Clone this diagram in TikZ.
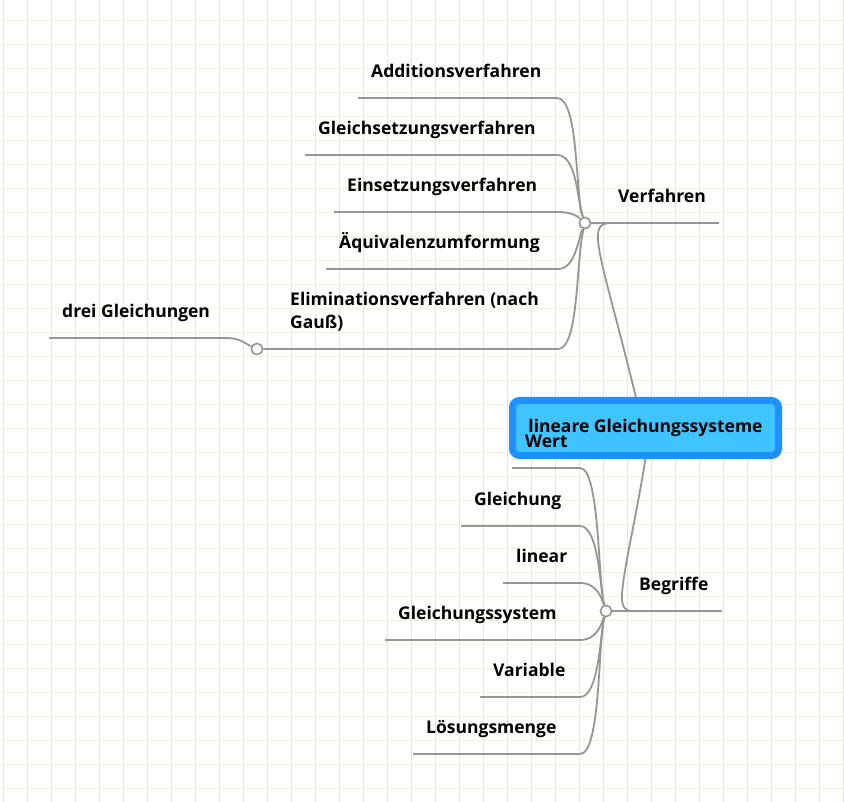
\documentclass[tikz,border=0pt]{standalone}
\usepackage{fontspec}
\setmainfont{Open Sans}
\definecolor{gridv}{RGB}{228,231,216}
\definecolor{gridh}{RGB}{234,244,222}
\definecolor{branchgray}{RGB}{150,150,150}
\definecolor{rootborder}{RGB}{30,144,255}
\definecolor{rootfill}{RGB}{64,196,255}
\tikzset{
  topic/.style={anchor=south west, inner xsep=13pt, inner ysep=0pt,
    text height=13pt, text depth=20pt, font=\fontsize{17.5}{23}\selectfont\bfseries},
  branch/.style={draw=branchgray, line width=1.8pt},
  hub/.style={circle, draw=branchgray, line width=1.5pt, fill=white,
    inner sep=0pt, minimum size=11pt},
  root/.style={draw=rootborder, fill=rootfill, line width=7pt, rounded corners=7pt,
    minimum width=266pt, minimum height=55pt, inner sep=0pt,
    font=\fontsize{17.5}{23}\selectfont\bfseries}
}
\begin{document}
\begin{tikzpicture}[x=1pt,y=-1pt]
  \useasboundingbox (0,0) rectangle (844,802);
  \fill[white] (0,0) rectangle (844,802);
  % grid
  \foreach \k in {0,...,34}
    \draw[gridh, line width=1pt] (0,20.3+24*\k) -- (844,20.3+24*\k);
  \foreach \k in {0,...,35}
    \draw[gridv, line width=1pt] (3.3+24*\k,0) -- (3.3+24*\k,802);

  % hubs and labels
  \node[hub] (hubV) at (585,223) {};
  \node[hub] (hubB) at (606,611) {};
  \node[hub] (hubE) at (257,349) {};
  \coordinate (vjoin) at (612,223);
  \coordinate (bjoin) at (632,611);

  \node[topic] (verf) at (605,223) {Verfahren};
  \node[topic] (begr) at (626,611) {Begriffe};

  \node[topic] (add) at (358,98) {Additionsverfahren};
  \node[topic] (gleichs) at (305,155) {Gleichsetzungsverfahren};
  \node[topic] (einsetz) at (334,212) {Einsetzungsverfahren};
  \node[topic] (aequi) at (326,269) {Äquivalenzumformung};
  \node[topic, anchor=west, text height=, text depth=, align=left] (elim) at (277,312)
    {Eliminationsverfahren (nach\\Gauß)};
  \node[topic] (drei) at (49,338) {drei Gleichungen};

  \node[topic] (gleichung) at (461,526) {Gleichung};
  \node[topic] (lin) at (503,583) {linear};
  \node[topic] (gsys) at (385,640) {Gleichungssystem};
  \node[topic] (var) at (480,697) {Variable};
  \node[topic] (loes) at (413,754) {Lösungsmenge};

  % connectors
  \draw[branch] (add.south west) -- (557,98) .. controls (579,98) and (575,195) .. (hubV);
  \draw[branch] (gleichs.south west) -- (557,155) .. controls (577,155) and (577,200) .. (hubV);
  \draw[branch] (einsetz.south west) -- (557,212) .. controls (570,212) and (576,215) .. (hubV);
  \draw[branch] (aequi.south west) -- (558,269) .. controls (575,269) and (578,240) .. (hubV);
  \draw[branch] (hubE) -- (558,349) .. controls (579,349) and (576,260) .. (hubV);
  \draw[branch] (drei.south west) -- (226,338) .. controls (240,338) and (244,343) .. (hubE);
  \draw[branch] (hubV) -- (verf.south east);
  \draw[branch] (hubB) -- (begr.south east);

  \draw[branch] (gleichung.south west) -- (580,526) .. controls (599,526) and (600,590) .. (hubB);
  \draw[branch] (lin.south west) -- (580,583) .. controls (598,583) and (602,600) .. (hubB);
  \draw[branch] (gsys.south west) -- (580,640) .. controls (598,640) and (602,622) .. (hubB);
  \draw[branch] (var.south west) -- (580,697) .. controls (599,697) and (600,635) .. (hubB);
  \draw[branch] (loes.south west) -- (580,754) .. controls (601,754) and (598,640) .. (hubB);
  \draw[branch] (512,468) -- (580,468) .. controls (600,468) and (598,585) .. (hubB);

  \draw[branch] (637,402) .. controls (615,310) and (597,255) .. (598,236)
    .. controls (598,226) and (602,223) .. (vjoin);
  \draw[branch] (646,455) .. controls (636,520) and (622,575) .. (622,597)
    .. controls (622,607) and (625,611) .. (bjoin);

  % hubs on top of the lines
  \node[hub] at (hubV) {};
  \node[hub] at (hubB) {};
  \node[hub] at (hubE) {};

  % root
  \node[root] (root) at (645.5,428) {lineare Gleichungssysteme};
  \node[topic] (wert) at (512,468) {Wert};
\end{tikzpicture}
\end{document}
